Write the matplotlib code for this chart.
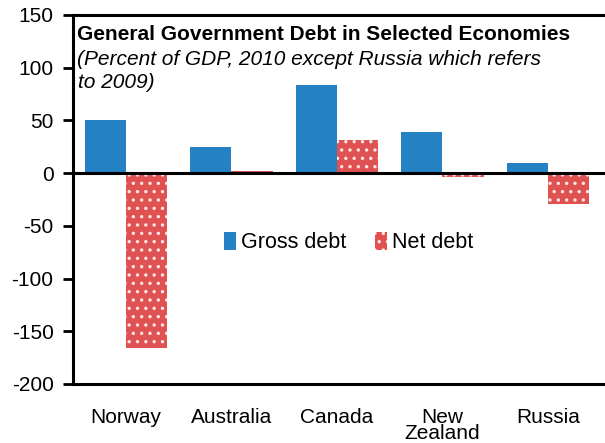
import numpy as np
import matplotlib.pyplot as plt

plt.rcParams['font.family'] = ['Liberation Sans', 'DejaVu Sans']
plt.rcParams['axes.unicode_minus'] = False
plt.rcParams['hatch.linewidth'] = 1.2

countries = ['Norway', 'Australia', 'Canada', 'New\nZealand', 'Russia']
gross_debt = [50, 25, 84, 39, 10]
net_debt = [-166, 2, 31, -4, -29]

blue = '#2381C4'
red = '#E05252'

fig = plt.figure(figsize=(6.05, 4.43), dpi=100)
ax = fig.add_axes([0.1207, 0.1332, 0.8793, 0.8330])

x = np.arange(len(countries))
w = 0.39
ax.bar(x - w / 2, gross_debt, width=w, color=blue, label='Gross debt')
ax.bar(x + w / 2, net_debt, width=w, facecolor=red, hatch='..', edgecolor='#FFE8E8',
       linewidth=0, label='Net debt')

ax.axhline(0, color='black', linewidth=2.2, zorder=3)

ax.set_xlim(-0.5, 4.54)
ax.set_ylim(-200, 150)
ax.set_yticks(range(-200, 151, 50))
ax.set_xticks(x)
ax.set_xticklabels(countries, fontsize=15, linespacing=0.85)
ax.tick_params(axis='x', length=0, pad=17)
ax.tick_params(axis='y', length=7, width=2, labelsize=15, pad=7, direction='out')

for side in ['top', 'bottom', 'left']:
    ax.spines[side].set_linewidth(2.2)
ax.spines['right'].set_visible(False)

ax.legend(loc='upper left', bbox_to_anchor=(0.268, 0.435), ncol=2, frameon=False,
          fontsize=15.5, handlelength=0.55, handleheight=0.9, handletextpad=0.25,
          columnspacing=1.3, borderaxespad=0)

fig.text(0.127, 0.909, 'General Government Debt in Selected Economies',
         fontsize=15, fontweight='bold', ha='left', va='baseline')
fig.text(0.127, 0.853, '(Percent of GDP, 2010 except Russia which refers',
         fontsize=15, style='italic', ha='left', va='baseline')
fig.text(0.129, 0.801, 'to 2009)',
         fontsize=15, style='italic', ha='left', va='baseline')

fig.savefig('out.png', dpi=100)
